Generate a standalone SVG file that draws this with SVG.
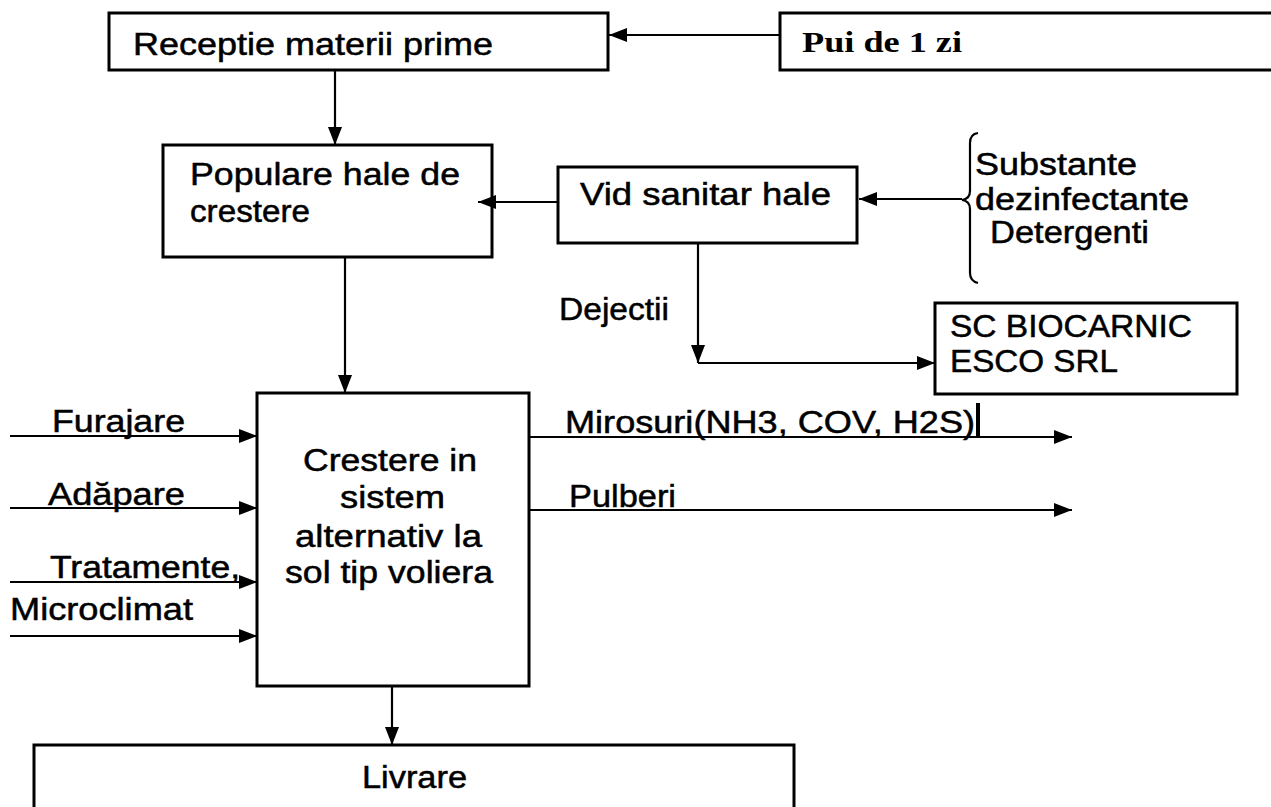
<svg xmlns="http://www.w3.org/2000/svg" width="1271" height="807" viewBox="0 0 1271 807">
<style>
.box{fill:#fff;stroke:#000;stroke-width:3}
.ln{fill:none;stroke:#000;stroke-width:2.2}
.t{font-family:"Liberation Sans",Arial,sans-serif;font-size:31px;fill:#000;stroke:#000;stroke-width:0.5}
.tb{font-family:"Liberation Serif","Times New Roman",serif;font-size:30px;font-weight:bold;fill:#000}
</style>
<defs>
<marker id="ah" viewBox="0 0 18 14" refX="18" refY="7" markerWidth="18" markerHeight="14" markerUnits="userSpaceOnUse" orient="auto">
<path d="M0,0 L18,7 L0,14 Z" fill="#000"/>
</marker>
</defs>
<rect width="1271" height="807" fill="#fff"/>
<g id="receptie">
<rect class="box" x="109" y="13" width="499" height="57"/>
<text class="t" x="133" y="55" textLength="360" lengthAdjust="spacingAndGlyphs">Receptie materii prime</text>
</g>
<g id="pui">
<rect class="box" x="780" y="13" width="500" height="57"/>
<text class="tb" x="802" y="52" textLength="160" lengthAdjust="spacingAndGlyphs">Pui de 1 zi</text>
</g>
<g id="populare">
<rect class="box" x="163" y="145" width="329" height="112"/>
<text class="t" x="190" y="185" textLength="270" lengthAdjust="spacingAndGlyphs">Populare hale de</text>
<text class="t" x="190" y="222" textLength="120" lengthAdjust="spacingAndGlyphs">crestere</text>
</g>
<g id="vid">
<rect class="box" x="558" y="167" width="299" height="76"/>
<text class="t" x="580" y="205" textLength="251" lengthAdjust="spacingAndGlyphs">Vid sanitar hale</text>
</g>
<g id="substante">
<text class="t" x="975" y="175" textLength="162" lengthAdjust="spacingAndGlyphs">Substante</text>
<text class="t" x="975" y="210" textLength="214" lengthAdjust="spacingAndGlyphs">dezinfectante</text>
<text class="t" x="990" y="243" textLength="159" lengthAdjust="spacingAndGlyphs">Detergenti</text>
</g>
<g id="dejectii">
<text class="t" x="559" y="320" textLength="110" lengthAdjust="spacingAndGlyphs">Dejectii</text>
</g>
<g id="biocarnic">
<rect class="box" x="935" y="303" width="302" height="91"/>
<text class="t" x="950" y="337" textLength="242" lengthAdjust="spacingAndGlyphs">SC BIOCARNIC</text>
<text class="t" x="950" y="372" textLength="168" lengthAdjust="spacingAndGlyphs">ESCO SRL</text>
</g>
<g id="crestere">
<rect class="box" x="257" y="393" width="272" height="293"/>
<text class="t" x="303" y="471" textLength="174" lengthAdjust="spacingAndGlyphs">Crestere in</text>
<text class="t" x="340" y="508" textLength="105" lengthAdjust="spacingAndGlyphs">sistem</text>
<text class="t" x="295" y="547" textLength="187" lengthAdjust="spacingAndGlyphs">alternativ la</text>
<text class="t" x="285" y="583" textLength="208" lengthAdjust="spacingAndGlyphs">sol tip voliera</text>
</g>
<g id="outputs">
<text class="t" x="565" y="433" textLength="410" lengthAdjust="spacingAndGlyphs">Mirosuri(NH3, COV, H2S)</text>
<rect x="976" y="403" width="4" height="35" fill="#000"/>
<text class="t" x="569" y="507" textLength="107" lengthAdjust="spacingAndGlyphs">Pulberi</text>
</g>
<g id="inputs">
<text class="t" x="52" y="432" textLength="133" lengthAdjust="spacingAndGlyphs">Furajare</text>
<text class="t" x="48" y="505" textLength="137" lengthAdjust="spacingAndGlyphs">Adăpare</text>
<text class="t" x="50" y="578" textLength="190" lengthAdjust="spacingAndGlyphs">Tratamente,</text>
<text class="t" x="10" y="620" textLength="183" lengthAdjust="spacingAndGlyphs">Microclimat</text>
</g>
<g id="livrare">
<rect class="box" x="34" y="745" width="760" height="80"/>
<text class="t" x="362" y="788" textLength="105" lengthAdjust="spacingAndGlyphs">Livrare</text>
</g>
<g id="connectors">
<path class="ln" d="M780,35 H609" marker-end="url(#ah)"/>
<path class="ln" d="M335,70 V145" marker-end="url(#ah)"/>
<path class="ln" d="M558,202 H478" marker-end="url(#ah)"/>
<path class="ln" d="M345,257 V393" marker-end="url(#ah)"/>
<path class="ln" d="M962,199 H859" marker-end="url(#ah)"/>
<path class="ln" d="M978,133 Q970,134 970,143 L970,191 Q970,199 962,200 Q970,201 970,209 L970,273 Q970,281 978,283"/>
<path class="ln" d="M698,243 V363" marker-end="url(#ah)"/>
<path class="ln" d="M698,363 H935" marker-end="url(#ah)"/>
<path class="ln" d="M529,437 H1072" marker-end="url(#ah)"/>
<path class="ln" d="M529,510 H1072" marker-end="url(#ah)"/>
<path class="ln" d="M10,436 H257" marker-end="url(#ah)"/>
<path class="ln" d="M10,508 H257" marker-end="url(#ah)"/>
<path class="ln" d="M10,582 H257" marker-end="url(#ah)"/>
<path class="ln" d="M10,636 H257" marker-end="url(#ah)"/>
<path class="ln" d="M392,686 V745" marker-end="url(#ah)"/>
</g>
</svg>
